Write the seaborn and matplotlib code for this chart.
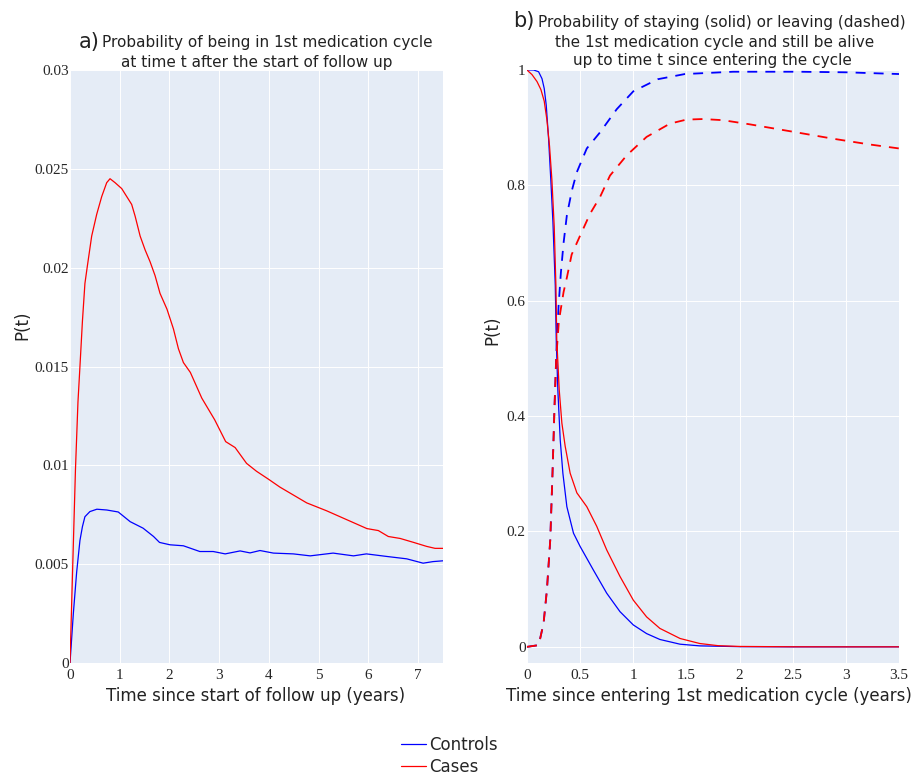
import matplotlib
matplotlib.use("Agg")
import matplotlib.pyplot as plt
import seaborn as sns

# panel a) probability of being in 1st medication cycle
a_t_cases = [0, 0.05, 0.11, 0.16, 0.2, 0.25, 0.3, 0.35, 0.436, 0.537, 0.638, 0.738, 0.805, 0.906,
             1.04, 1.14, 1.24, 1.31, 1.41, 1.51, 1.61, 1.71, 1.81, 1.95, 2.08, 2.18, 2.28, 2.42,
             2.65, 2.91, 3.13, 3.32, 3.55, 3.75, 3.99, 4.22, 4.49, 4.76, 4.96, 5.16, 5.43, 5.7,
             5.97, 6.2, 6.4, 6.64, 6.91, 7.17, 7.34, 7.5]
a_p_cases = [0, 0.0045, 0.0098, 0.0132, 0.015, 0.0173, 0.0192, 0.0201, 0.0216, 0.0227, 0.0236,
             0.0243, 0.0245, 0.0243, 0.0240, 0.0236, 0.0232, 0.0226, 0.0216, 0.0209, 0.0203,
             0.0196, 0.0187, 0.0179, 0.0169, 0.0159, 0.0152, 0.0147, 0.0134, 0.0123, 0.0112,
             0.0109, 0.0101, 0.0097, 0.0093, 0.0089, 0.0085, 0.0081, 0.0079, 0.0077, 0.0074,
             0.0071, 0.0068, 0.0067, 0.0064, 0.0063, 0.0061, 0.0059, 0.0058, 0.0058]
a_t_controls = [0, 0.067, 0.134, 0.2, 0.25, 0.3, 0.4, 0.54, 0.74, 0.97, 1.21, 1.47, 1.68, 1.8,
                2.01, 2.28, 2.61, 2.88, 3.12, 3.42, 3.62, 3.82, 4.09, 4.49, 4.83, 5.29, 5.7,
                5.96, 6.37, 6.77, 7.1, 7.3, 7.5]
a_p_controls = [0, 0.0025, 0.0046, 0.0062, 0.0069, 0.0074, 0.00766, 0.00778, 0.00774, 0.00764,
                0.00715, 0.00682, 0.0064, 0.0061, 0.00598, 0.00593, 0.00564, 0.00564, 0.00552,
                0.00567, 0.00557, 0.00569, 0.00556, 0.00552, 0.00542, 0.00556, 0.00542, 0.00552,
                0.00539, 0.00527, 0.00505, 0.00513, 0.00517]

# panel b) staying (solid) / leaving (dashed)
b_t_stay_controls = [0, 0.062, 0.109, 0.141, 0.162, 0.181, 0.203, 0.225, 0.244, 0.266, 0.275,
                     0.29, 0.3125, 0.3375, 0.375, 0.4375, 0.5, 0.625, 0.75, 0.875, 1.0, 1.125,
                     1.25, 1.44, 1.625, 2.0, 2.5, 3.0, 3.5]
b_p_stay_controls = [1, 1.0, 0.997, 0.985, 0.968, 0.939, 0.881, 0.806, 0.736, 0.626, 0.533,
                     0.446, 0.359, 0.301, 0.243, 0.197, 0.174, 0.133, 0.093, 0.061, 0.038, 0.023,
                     0.0128, 0.0046, 0.0017, 0.0003, 0, 0, 0]
b_t_stay_cases = [0, 0.047, 0.094, 0.131, 0.162, 0.187, 0.212, 0.234, 0.256, 0.272, 0.28, 0.303,
                  0.328, 0.359, 0.406, 0.469, 0.5625, 0.656, 0.75, 0.875, 1.0, 1.125, 1.25, 1.44,
                  1.625, 1.8, 2.0, 2.5, 3.0, 3.5]
b_p_stay_cases = [1, 0.992, 0.98, 0.966, 0.946, 0.914, 0.868, 0.81, 0.729, 0.626, 0.533, 0.446,
                  0.388, 0.348, 0.301, 0.267, 0.243, 0.209, 0.168, 0.122, 0.081, 0.052, 0.032,
                  0.0145, 0.0058, 0.002, 0.0007, 0.0001, 0, 0]
b_t_leave_controls = [0, 0.11, 0.156, 0.1875, 0.219, 0.24, 0.259, 0.275, 0.297, 0.319, 0.344,
                      0.375, 0.422, 0.469, 0.5625, 0.6875, 0.844, 1.0, 1.23, 1.485, 1.94, 2.56,
                      3.0, 3.5]
b_p_leave_controls = [0, 0.003, 0.041, 0.099, 0.186, 0.301, 0.417, 0.504, 0.591, 0.649, 0.70,
                      0.748, 0.791, 0.823, 0.864, 0.892, 0.932, 0.963, 0.984, 0.993, 0.997,
                      0.997, 0.996, 0.993]
b_t_leave_cases = [0, 0.11, 0.156, 0.1875, 0.219, 0.24, 0.259, 0.275, 0.3, 0.344, 0.375, 0.42,
                   0.5, 0.594, 0.6875, 0.781, 0.938, 1.125, 1.344, 1.5, 1.656, 1.844, 2.09, 2.47,
                   2.876, 3.22, 3.5]
b_p_leave_cases = [0, 0.003, 0.041, 0.099, 0.186, 0.301, 0.417, 0.5, 0.565, 0.615, 0.64, 0.68,
                   0.713, 0.751, 0.78, 0.817, 0.852, 0.884, 0.907, 0.914, 0.915, 0.913, 0.906,
                   0.894, 0.881, 0.871, 0.864]

a_xticks = [0, 1, 2, 3, 4, 5, 6, 7]
a_yticks = [0, 0.005, 0.01, 0.015, 0.02, 0.025, 0.03]
a_ylabels = ['0', '0.005', '0.01', '0.015', '0.02', '0.025', '0.03']
b_xticks = [0, 0.5, 1, 1.5, 2, 2.5, 3, 3.5]
b_xlabels = ['0', '0.5', '1', '1.5', '2', '2.5', '3', '3.5']
b_yticks = [0, 0.2, 0.4, 0.6, 0.8, 1]
b_ylabels = ['0', '0.2', '0.4', '0.6', '0.8', '1']

sns.set_theme(style='darkgrid', rc={'axes.facecolor': '#E5ECF6', 'grid.color': 'white',
                                    'grid.linewidth': 0.7})
plt.rcParams['font.family'] = ['DejaVu Sans']

BLUE = '#0000ff'
RED = '#ff0000'
W, H = 920, 778
fig = plt.figure(figsize=(9.2, 7.78), dpi=100)
ax1 = fig.add_axes([70 / W, 1 - 663 / H, 373 / W, 593 / H])
ax2 = fig.add_axes([527 / W, 1 - 663 / H, 372 / W, 593 / H])

sns.lineplot(x=a_t_controls, y=a_p_controls, ax=ax1, color=BLUE, lw=0.9, label='Controls')
sns.lineplot(x=a_t_cases, y=a_p_cases, ax=ax1, color=RED, lw=0.9, label='Cases')
ax1.set_xlim(0, 7.5)
ax1.set_ylim(0, 0.03)

dash = (0, (5.5, 4.5))
sns.lineplot(x=b_t_stay_controls, y=b_p_stay_controls, ax=ax2, color=BLUE, lw=0.9)
sns.lineplot(x=b_t_stay_cases, y=b_p_stay_cases, ax=ax2, color=RED, lw=0.9)
sns.lineplot(x=b_t_leave_controls, y=b_p_leave_controls, ax=ax2, color=BLUE, lw=1.3, linestyle=dash)
sns.lineplot(x=b_t_leave_cases, y=b_p_leave_cases, ax=ax2, color=RED, lw=1.3, linestyle=dash)
ax2.set_xlim(0, 3.5)
ax2.set_ylim(-0.028, 1.0)

tick_font = dict(family='Liberation Serif', size=11)
for ax in (ax1, ax2):
    for s in ax.spines.values():
        s.set_visible(False)
    ax.tick_params(length=0, pad=1)
    ax.tick_params(axis='x', pad=4)
    ax.set_xlabel('')
    ax.set_ylabel('')
    if ax.get_legend() is not None:
        ax.get_legend().remove()

ax1.set_xticks(a_xticks)
ax1.set_xticklabels([str(v) for v in a_xticks], **tick_font)
ax1.set_yticks(a_yticks)
ax1.set_yticklabels(a_ylabels, **tick_font)
ax2.set_xticks(b_xticks)
ax2.set_xticklabels(b_xlabels, **tick_font)
ax2.set_yticks(b_yticks)
ax2.set_yticklabels(b_ylabels, **tick_font)

lab = dict(fontsize=12, color='#222222')
fig.text(256 / W, 1 - 696 / H, 'Time since start of follow up (years)', ha='center', va='center', **lab)
fig.text(709 / W, 1 - 696 / H, 'Time since entering 1st medication cycle (years)', ha='center', va='center', **lab)
fig.text(22 / W, 1 - 325 / H, 'P(t)', rotation=90, ha='center', va='center', **lab)
fig.text(492 / W, 1 - 330 / H, 'P(t)', rotation=90, ha='center', va='center', **lab)

tt = dict(fontsize=11, color='#222222', ha='center', va='center')
fig.text(89 / W, 1 - 42 / H, 'a)', fontsize=15, color='#222222', ha='center', va='center')
fig.text(267 / W, 1 - 42 / H, 'Probability of being in 1st medication cycle', **tt)
fig.text(257 / W, 1 - 63 / H, 'at time t after the start of follow up', **tt)
fig.text(524 / W, 1 - 21 / H, 'b)', fontsize=15, color='#222222', ha='center', va='center')
fig.text(722 / W, 1 - 22 / H, 'Probability of staying (solid) or leaving (dashed)', **tt)
fig.text(715 / W, 1 - 42 / H, 'the 1st medication cycle and still be alive', **tt)
fig.text(712 / W, 1 - 61 / H, 'up to time t since entering the cycle', **tt)

handles, labels = ax1.get_legend_handles_labels()
fig.legend(handles, labels, loc='upper left', bbox_to_anchor=(401 / W, 1 - 736 / H),
           frameon=False, fontsize=12, handlelength=1.5, handletextpad=0.2,
           labelspacing=0.25, borderpad=0, borderaxespad=0)

fig.savefig('out.png', dpi=100)
